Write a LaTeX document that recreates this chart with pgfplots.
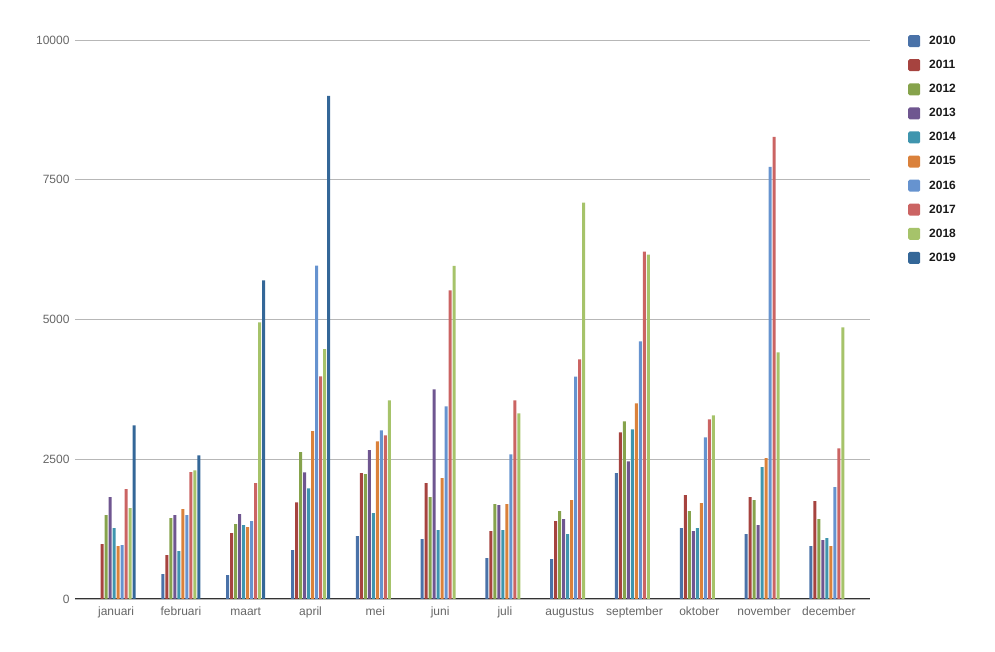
\documentclass[border=0pt]{standalone}
\usepackage{pgfplots}
\pgfplotsset{compat=1.18}
\usepackage{pgfplotstable}
\usepackage{fontspec}
\setmainfont{Liberation Sans}
\definecolor{c10}{HTML}{4A72A8}
\definecolor{c11}{HTML}{A6433F}
\definecolor{c12}{HTML}{86A34C}
\definecolor{c13}{HTML}{6F5690}
\definecolor{c14}{HTML}{3F95AE}
\definecolor{c15}{HTML}{DA813B}
\definecolor{c16}{HTML}{6693CF}
\definecolor{c17}{HTML}{CB6463}
\definecolor{c18}{HTML}{A6C36A}
\definecolor{c19}{HTML}{346798}
\definecolor{ticktext}{HTML}{666666}
\definecolor{gridc}{HTML}{B7B7B7}
\pgfplotstableread{
m y10 y11 y12 y13 y14 y15 y16 y17 y18 y19
0 nan 982 1500 1821 1268 946 964 1964 1625 3107
1 446 786 1446 1500 857 1607 1500 2268 2303 2571
2 429 1178 1339 1518 1321 1286 1393 2071 4950 5700
3 873 1729 2626 2267 1980 3002 5963 3983 4468 9001
4 1125 2250 2232 2661 1536 2821 3018 2928 3553 nan
5 1071 2071 1821 3750 1232 2161 3446 5520 5960 nan
6 732 1214 1696 1678 1232 1696 2589 3553 3321 nan
7 714 1393 1571 1428 1161 1768 3976 4285 7089 nan
8 2250 2982 3178 2464 3036 3500 4607 6214 6160 nan
9 1268 1857 1571 1214 1268 1714 2893 3214 3286 nan
10 1161 1821 1768 1321 2357 2518 7732 8268 4411 nan
11 946 1750 1428 1054 1089 946 2000 2696 4857 nan
}\data
\begin{document}
\begin{tikzpicture}
\path[use as bounding box] (-75pt,-53pt) rectangle (920pt,599pt);
\begin{axis}[
  at={(0pt,0pt)}, anchor=south west,
  scale only axis, width=795pt, height=559pt,
  ybar=1pt, bar width=3pt,
  xmin=-0.635, xmax=11.635, ymin=0, ymax=10000,
  xtick={0,...,11},
  xticklabels={januari,februari,maart,april,mei,juni,juli,augustus,september,oktober,november,december},
  ytick={0,2500,5000,7500,10000},
  yticklabels={0,2500,5000,7500,10000},
  scaled y ticks=false,
  major tick length=0pt,
  ymajorgrids, grid style={gridc, line width=0.8pt},
  axis x line*=bottom, axis y line*=left,
  x axis line style={draw=black!80, line width=1pt, -},
  y axis line style={draw=none},
  tick label style={font=\fontsize{12}{14}\selectfont, text=ticktext},
  xticklabel style={text height=9pt, text depth=3pt, yshift=-4pt},
  yticklabel style={xshift=-2pt},
  legend style={at={(1,1)}, anchor=north west, xshift=35pt, yshift=8pt,
    draw=none, fill=none, font=\bfseries\fontsize{12}{14}\selectfont,
    text=black!90, row sep=10.2pt, legend cell align=left,
    /tikz/every odd column/.append style={column sep=7pt}},
  legend image code/.code={\fill[#1, rounded corners=1.5pt] (0pt,-6pt) rectangle (12pt,6pt);},
]
\addplot[fill=c10, draw=none] table[x=m, y=y10] {\data};
\addplot[fill=c11, draw=none] table[x=m, y=y11] {\data};
\addplot[fill=c12, draw=none] table[x=m, y=y12] {\data};
\addplot[fill=c13, draw=none] table[x=m, y=y13] {\data};
\addplot[fill=c14, draw=none] table[x=m, y=y14] {\data};
\addplot[fill=c15, draw=none] table[x=m, y=y15] {\data};
\addplot[fill=c16, draw=none] table[x=m, y=y16] {\data};
\addplot[fill=c17, draw=none] table[x=m, y=y17] {\data};
\addplot[fill=c18, draw=none] table[x=m, y=y18] {\data};
\addplot[fill=c19, draw=none] table[x=m, y=y19] {\data};
\legend{2010,2011,2012,2013,2014,2015,2016,2017,2018,2019}
\end{axis}
\end{tikzpicture}
\end{document}
